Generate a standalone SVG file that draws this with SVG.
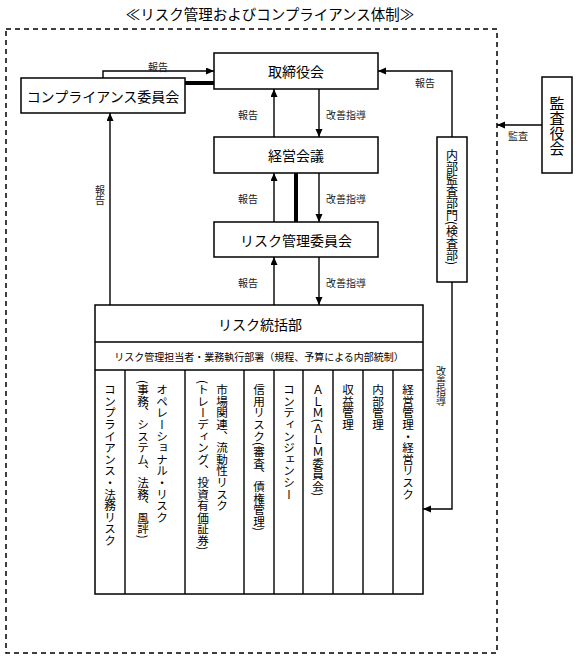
<svg xmlns="http://www.w3.org/2000/svg" width="578" height="663" viewBox="0 0 578 663">
<defs>
<style>
text{font-family:"Noto Sans CJK JP","Noto Sans",sans-serif;fill:#000}
.box{fill:#fff;stroke:#000;stroke-width:1.5}
.ln{fill:none;stroke:#000;stroke-width:1.4}
.thick{fill:none;stroke:#000;stroke-width:4}
.arr{fill:none;stroke:#000;stroke-width:1.4;marker-end:url(#ah)}
.big{font-size:14px;text-anchor:middle;dominant-baseline:central}
.lbl{font-size:10px;fill:#222;text-anchor:middle;dominant-baseline:central}
.v{writing-mode:vertical-rl;font-size:11.6px}
.vl{writing-mode:vertical-rl;font-size:10px;fill:#222}
</style>
<marker id="ah" markerUnits="userSpaceOnUse" markerWidth="9" markerHeight="8" refX="8" refY="3.5" orient="auto">
<path d="M0,0 L8,3.5 L0,7 z" fill="#000"/>
</marker>
</defs>
<rect width="578" height="663" fill="#fff"/>
<text x="270" y="13" style="font-size:14.5px;text-anchor:middle;dominant-baseline:central">≪リスク管理およびコンプライアンス体制≫</text>
<rect x="6" y="29" width="491" height="624" fill="none" stroke="#000" stroke-width="1.5" stroke-dasharray="5,4"/>

<g id="connectors">
<path class="arr" d="M103,78 V71 H214"/>
<line class="thick" x1="185" y1="83" x2="214" y2="83"/>
<path class="arr" d="M452,137 V71 H378"/>
<path class="arr" d="M274,137 V89"/>
<path class="arr" d="M319,89 V137"/>
<path class="arr" d="M274,222 V173"/>
<path class="arr" d="M319,173 V222"/>
<line class="thick" x1="296" y1="173" x2="296" y2="222"/>
<path class="arr" d="M274,305 V257"/>
<path class="arr" d="M319,257 V305"/>
<path class="arr" d="M110,305 V113"/>
<path class="arr" d="M452,282 V509 H423"/>
<path class="arr" d="M542,125 H497"/>
<text class="lbl" x="158" y="66">報告</text>
<text class="lbl" x="425" y="82">報告</text>
<text class="lbl" x="248" y="114">報告</text>
<text class="lbl" x="346" y="114">改善指導</text>
<text class="lbl" x="248" y="198">報告</text>
<text class="lbl" x="346" y="198">改善指導</text>
<text class="lbl" x="248" y="282">報告</text>
<text class="lbl" x="346" y="282">改善指導</text>
<text class="vl" x="100" y="185">報告</text>
<text class="vl" x="441" y="366">改善指導</text>
<text class="lbl" x="518" y="135">監査</text>
</g>

<g id="board">
<rect class="box" x="214" y="53" width="164" height="36"/>
<text class="big" x="296" y="71">取締役会</text>
</g>
<g id="compliance-committee">
<rect class="box" x="21" y="78" width="164" height="35"/>
<text class="big" x="103" y="95.5">コンプライアンス委員会</text>
</g>
<g id="management-meeting">
<rect class="box" x="214" y="137" width="164" height="36"/>
<text class="big" x="296" y="155">経営会議</text>
</g>
<g id="risk-committee">
<rect class="box" x="214" y="222" width="164" height="35"/>
<text class="big" x="296" y="239.5">リスク管理委員会</text>
</g>
<g id="internal-audit">
<rect class="box" x="437" y="137" width="30" height="145"/>
<text x="452" y="149" style="writing-mode:vertical-rl;font-size:12px">内部監査部門(検査部)</text>
</g>
<g id="auditors">
<rect class="box" x="542" y="77" width="30" height="96"/>
<text x="557" y="96" style="writing-mode:vertical-rl;font-size:15px">監査役会</text>
</g>
<g id="risk-control">
<rect class="box" x="95" y="305" width="328" height="289"/>
<line class="ln" x1="95" y1="342" x2="423" y2="342"/>
<line class="ln" x1="95" y1="370" x2="423" y2="370"/>
<text class="big" x="260" y="323.5">リスク統括部</text>
<text x="259" y="356" style="font-size:10px;text-anchor:middle;dominant-baseline:central">リスク管理担当者・業務執行部署（規程、予算による内部統制）</text>
</g>
<g id="col-compliance">
<line class="ln" x1="125" y1="370" x2="125" y2="594"/>
<text class="v" x="110" y="384">コンプライアンス・法務リスク</text>
</g>
<g id="col-operational">
<line class="ln" x1="185" y1="370" x2="185" y2="594"/>
<text class="v" x="162" y="384">オペレーショナル・リスク</text>
<text class="v" x="143" y="380">(事務、システム、法務、風評)</text>
</g>
<g id="col-market">
<line class="ln" x1="244" y1="370" x2="244" y2="594"/>
<text class="v" x="222" y="384">市場関連、流動性リスク</text>
<text class="v" x="203" y="380">(トレーディング、投資有価証券)</text>
</g>
<g id="col-credit">
<line class="ln" x1="274" y1="370" x2="274" y2="594"/>
<text class="v" x="259" y="384">信用リスク(審査、債権管理)</text>
</g>
<g id="col-contingency">
<line class="ln" x1="303" y1="370" x2="303" y2="594"/>
<text class="v" x="289" y="384">コンティンジェンシー</text>
</g>
<g id="col-alm">
<line class="ln" x1="333" y1="370" x2="333" y2="594"/>
<text class="v" x="318" y="384">ＡＬＭ(ＡＬＭ委員会)</text>
</g>
<g id="col-profit">
<line class="ln" x1="363" y1="370" x2="363" y2="594"/>
<text class="v" x="348" y="384">収益管理</text>
</g>
<g id="col-internal">
<line class="ln" x1="393" y1="370" x2="393" y2="594"/>
<text class="v" x="378" y="384">内部管理</text>
</g>
<g id="col-management">
<text class="v" x="408" y="384">経営管理・経営リスク</text>
</g>
</svg>
